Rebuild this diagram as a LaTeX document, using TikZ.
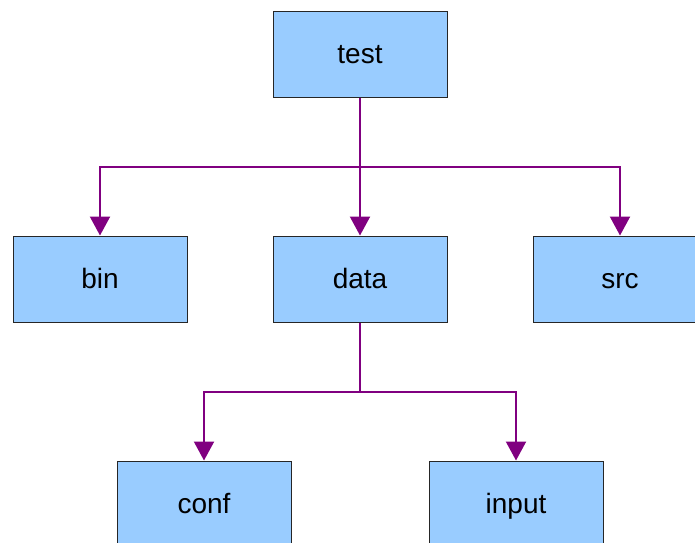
\documentclass[tikz,border=0pt]{standalone}
\usepackage{fontspec}
\setmainfont{Liberation Sans}
\usetikzlibrary{arrows.meta}
\tikzset{
  dirbox/.style={draw=black!85, line width=1pt, fill={rgb,255:red,153;green,204;blue,255},
    minimum width=174pt, minimum height=86pt, inner sep=0pt,
    text height=22pt, text depth=4pt, font=\fontsize{28}{32}\selectfont},
  link/.style={draw={rgb,255:red,128;green,0;blue,128}, line width=2.2pt},
  linkarrow/.style={link, -{Triangle[length=19pt,width=20pt]}}
}
\begin{document}
\begin{tikzpicture}[x=1pt,y=-1pt]
  \useasboundingbox[clip] (0,0) rectangle (695,542);
  \node[dirbox] (test)  at (360,54)  {test};
  \node[dirbox] (bin)   at (100,279) {bin};
  \node[dirbox] (data)  at (360,279) {data};
  \node[dirbox] (src)   at (620,279) {src};
  \node[dirbox] (conf)  at (204,504) {conf};
  \node[dirbox] (input) at (516,504) {input};
  % first level
  \coordinate (j1) at (360,167);
  \draw[link] (test.south) -- (j1);
  \draw[linkarrow] (j1) -| (bin.north);
  \draw[linkarrow] (j1) -- (data.north);
  \draw[linkarrow] (j1) -| (src.north);
  % second level
  \coordinate (j2) at (360,392);
  \draw[link] (data.south) -- (j2);
  \draw[linkarrow] (j2) -| (conf.north);
  \draw[linkarrow] (j2) -| (input.north);
\end{tikzpicture}
\end{document}
